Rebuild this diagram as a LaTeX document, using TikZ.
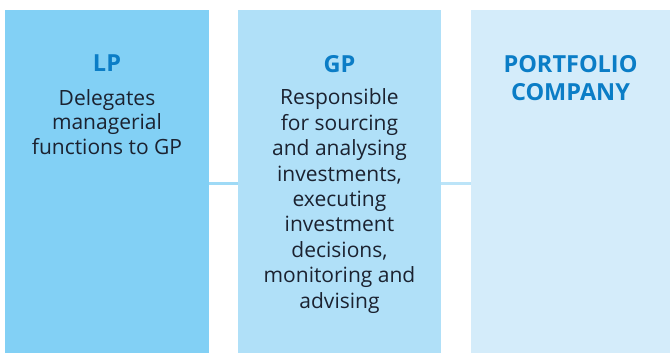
\documentclass[tikz,border=0pt]{standalone}
\usepackage{fontspec}
\setmainfont{Open Sans}
\usepackage{xcolor}
\usepackage{tikz}

\definecolor{lpfill}{HTML}{82D0F5}
\definecolor{gpfill}{HTML}{B0E0F8}
\definecolor{pcfill}{HTML}{D4ECFA}
\definecolor{headblue}{HTML}{0B7DC6}
\definecolor{bodyink}{HTML}{1B2230}
\definecolor{linkone}{HTML}{9FDAF6}
\definecolor{linktwo}{HTML}{BCE4F8}

\begin{document}
\begin{tikzpicture}[x=1pt,y=-1pt,
		box/.style={rectangle,inner sep=0pt,minimum height=343pt,anchor=north west},
		head/.style={anchor=base,inner sep=0pt,text=headblue,align=center,font=\fontsize{23.5}{28.5}\selectfont\bfseries},
		body/.style={anchor=base,inner sep=0pt,text=bodyink,align=center,font=\fontsize{21}{#1}\selectfont},
		link/.style={line width=3pt}]
			\useasboundingbox (0,0) rectangle (670,353);

			\node[box, fill=lpfill, minimum width=204pt] (lp) at (5,10) {};
			\node[box, fill=gpfill, minimum width=203pt] (gp) at (238,10) {};
			\node[box, fill=pcfill, minimum width=199pt] (pc) at (471,10) {};

			% base anchor sits on the last line
			\node[head] (lphead) at (107,72) {LP};
			\node[head] (gphead) at (339.5,73) {GP};
			\node[head] (pchead) at (570.5,101) {PORTFOLIO\\COMPANY};

			\node[body=24.5] (lpbody) at (107,154) {Delegates\\managerial\\functions to GP};
			\node[body=25.4] (gpbody) at (339.5,308) {Responsible\\for sourcing\\and analysing\\investments,\\executing\\investment\\decisions,\\monitoring and\\advising};

			%% lines
			\draw[link, linkone] ([yshift=-1.5pt]lp.east) -- ([yshift=-1.5pt]gp.west);
			\draw[link, linktwo] ([yshift=-1.5pt]gp.east) -- ([yshift=-1.5pt]pc.west);
		\end{tikzpicture}
\end{document}
